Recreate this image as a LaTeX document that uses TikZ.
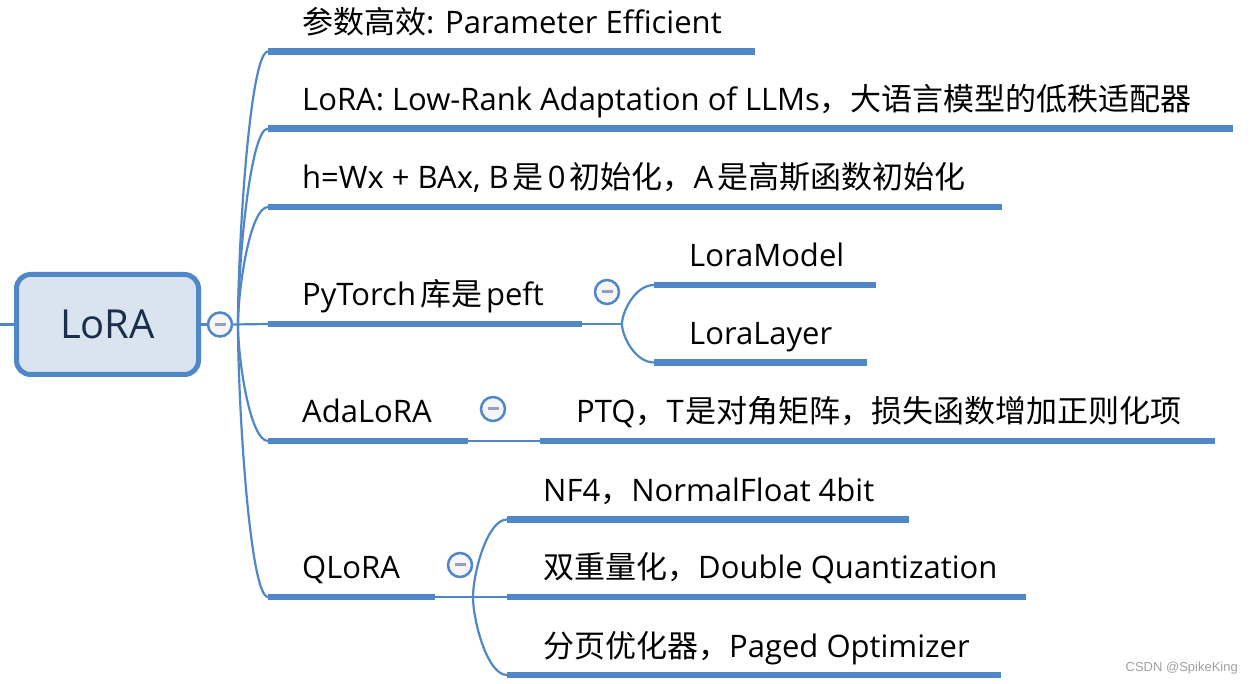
\documentclass[tikz,border=0pt]{standalone}
\usepackage{fontspec}
\setmainfont{Open Sans}
\newfontfamily\cjkfont{Noto Sans CJK SC}
\newfontfamily\wmfont{Liberation Sans}
\newcommand{\zhtext}[1]{{\cjkfont #1}}
\newcommand{\gp}{\hspace{4pt}}
\definecolor{mblue}{RGB}{80,135,199}
\definecolor{rootfill}{RGB}{218,228,240}
\definecolor{rootink}{RGB}{27,46,76}
\definecolor{minusc}{RGB}{152,157,200}
\definecolor{circfill}{RGB}{246,246,248}
\definecolor{wmgray}{RGB}{160,160,160}
\newcommand{\minusmark}{\textcolor{minusc}{\rule[-1.5pt]{11pt}{3pt}}}
\begin{document}
\begin{tikzpicture}[x=1pt,y=-1pt,
  bar/.style={line width=6.5pt, draw=mblue},
  conn/.style={line width=2.2pt, draw=mblue},
  lbl/.style={anchor=base west, inner sep=0pt, font=\fontsize{31}{37}\selectfont, text=black},
  toggle/.style={circle, draw=mblue, line width=2.5pt, fill=circfill, minimum size=24pt, inner sep=0pt},
]
\useasboundingbox (0,0) rectangle (1254,684);

% root
\node[draw=mblue, line width=5pt, fill=rootfill, rounded corners=14pt, minimum width=182pt, minimum height=100pt,
      font=\fontsize{40}{46}\selectfont, text=rootink, inner sep=0pt] (root) at (107.5,324.5) {LoRA};
\coordinate (lstub) at (0,324.5);
\draw[conn] (lstub) -- (root.west);
\node[toggle] (t0) at (220,324.5) {\minusmark};
\draw[conn] (root.east) -- (t0.west);
\coordinate (rb) at (238,324.5);

% first level bars
\coordinate (b1s) at (268,51.5);  \coordinate (b1e) at (755,51.5);
\coordinate (b2s) at (268,128.5); \coordinate (b2e) at (1233,128.5);
\coordinate (b3s) at (268,207);   \coordinate (b3e) at (1002,207);
\coordinate (b4s) at (268,324);   \coordinate (b4e) at (582,324);
\coordinate (b5s) at (268,441);   \coordinate (b5e) at (468,441);
\coordinate (b6s) at (268,597);   \coordinate (b6e) at (435,597);

\draw[conn] (t0.east) -- (b4s);
\draw[conn] (rb) .. controls +(0,-82) and +(-18,0) .. (b1s);
\draw[conn] (rb) .. controls +(0,-59) and +(-18,0) .. (b2s);
\draw[conn] (rb) .. controls +(0,-35) and +(-18,0) .. (b3s);
\draw[conn] (rb) .. controls +(0,35) and +(-18,0) .. (b5s);
\draw[conn] (rb) .. controls +(0,82) and +(-18,0) .. (b6s);
\foreach \i in {1,...,6} { \draw[bar] (b\i s) -- (b\i e); }

\node[lbl] (n1) at (302,33.5) {\zhtext{参数高效}: Parameter Efficient};
\node[lbl] (n2) at (302,110.5) {LoRA: Low-Rank Adaptation of LLMs\zhtext{，大语言模型的低秩适配器}};
\node[lbl] (n3) at (302,189) {h=Wx + BAx, B\gp\zhtext{是}\gp0\gp\zhtext{初始化，}A\gp\zhtext{是高斯函数初始化}};
\node[lbl] (n4) at (302,305.5) {PyTorch\gp\zhtext{库是}\gp peft};
\node[lbl] (n5) at (302,423) {AdaLoRA};
\node[lbl] (n6) at (302,579) {QLoRA};

% PyTorch children
\node[toggle] (t4) at (607,292) {\minusmark};
\coordinate (pb) at (622,324);
\coordinate (c1s) at (654,285);   \coordinate (c1e) at (876,285);
\coordinate (c2s) at (654,362.5); \coordinate (c2e) at (867,362.5);
\draw[conn] (b4e) -- (pb);
\draw[conn] (pb) .. controls +(0,-12) and +(-19,0) .. (c1s);
\draw[conn] (pb) .. controls +(0,12) and +(-19,0) .. (c2s);
\draw[bar] (c1s) -- (c1e);
\draw[bar] (c2s) -- (c2e);
\node[lbl] (n7) at (689,267) {LoraModel};
\node[lbl] (n8) at (689,344.5) {LoraLayer};

% AdaLoRA child
\node[toggle] (t5) at (493,409) {\minusmark};
\coordinate (d1s) at (540,441); \coordinate (d1e) at (1215,441);
\draw[conn] (b5e) -- (d1s);
\draw[bar] (d1s) -- (d1e);
\node[lbl] (n9) at (576,423) {PTQ\zhtext{，}T\hspace{2pt}\zhtext{是对角矩阵，损失函数增加正则化项}};

% QLoRA children
\node[toggle] (t6) at (460,565) {\minusmark};
\coordinate (qb) at (473,597);
\coordinate (q1s) at (507,519.5); \coordinate (q1e) at (909,519.5);
\coordinate (q2s) at (507,597);   \coordinate (q2e) at (1026,597);
\coordinate (q3s) at (507,675);   \coordinate (q3e) at (1001,675);
\draw[conn] (b6e) -- (q2s);
\draw[conn] (qb) .. controls +(0,-23) and +(-20,0) .. (q1s);
\draw[conn] (qb) .. controls +(0,23) and +(-20,0) .. (q3s);
\foreach \i in {1,2,3} { \draw[bar] (q\i s) -- (q\i e); }
\node[lbl] (n10) at (543,501.5) {NF4\zhtext{，}NormalFloat 4bit};
\node[lbl] (n11) at (543,579) {\zhtext{双重量化，}Double Quantization};
\node[lbl] (n12) at (543,657) {\zhtext{分页优化器，}Paged Optimizer};

\node[anchor=base east, inner sep=0pt, font=\wmfont\fontsize{13}{15}\selectfont, text=wmgray] (wm) at (1238,671) {CSDN @SpikeKing};
\end{tikzpicture}
\end{document}
